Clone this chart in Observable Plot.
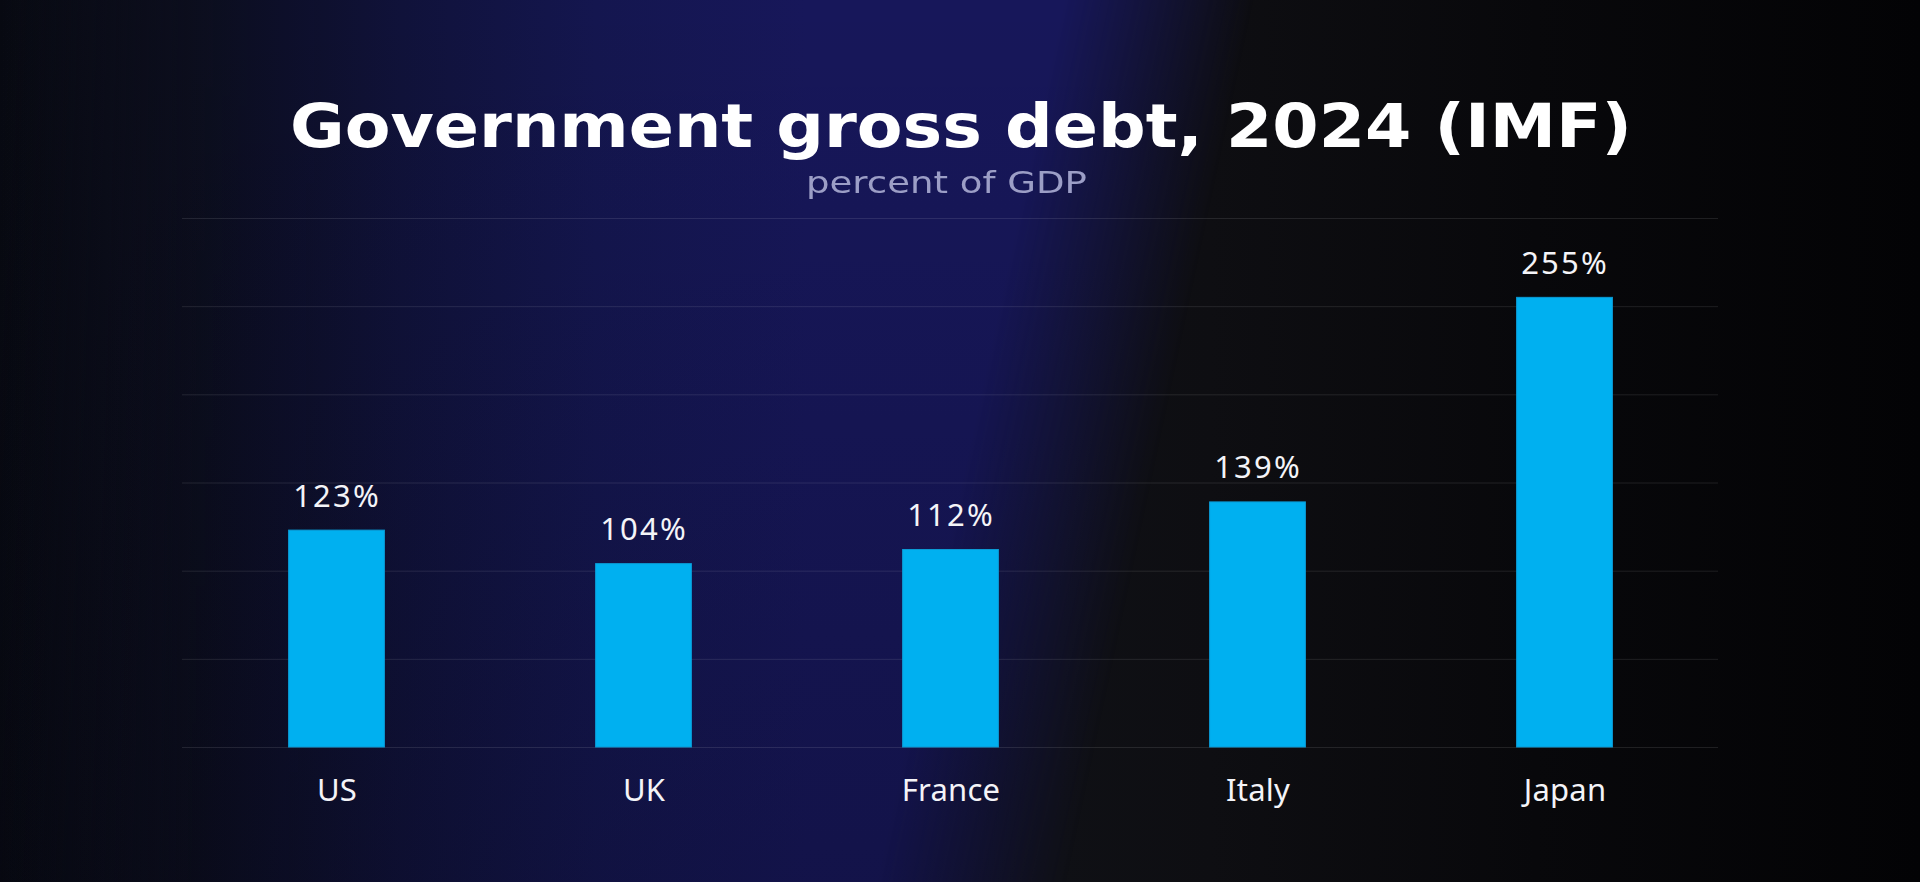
<!DOCTYPE html>
<html>
<head>
<meta charset="utf-8">
<script src="https://cdn.jsdelivr.net/npm/d3@7"></script>
<script src="https://cdn.jsdelivr.net/npm/@observablehq/plot@0.6"></script>
<style>
  html, body { margin: 0; padding: 0; width: 1920px; height: 882px; overflow: hidden; }
  body {
    position: relative;
    background: linear-gradient(90deg, #080a12 0%, #0c0d17 15%, #0f1015 55%, #0e0e12 63%, #08080b 80%, #030305 100%);
  }
  #glow {
    position: absolute; left: 0; top: 0; width: 1920px; height: 882px;
    background:
      linear-gradient(180deg, rgba(4,4,14,0) 0%, rgba(4,4,14,0.22) 100%),
      linear-gradient(90deg, rgba(12,14,28,0) 0%, rgba(12,14,30,0.9) 10%, #10123a 21%, #14164f 31%, #17175a 42%, #17175a 62%);
    -webkit-mask-image: linear-gradient(102deg, #000 50.5%, rgba(0,0,0,0) 59.5%);
    mask-image: linear-gradient(102deg, #000 50.5%, rgba(0,0,0,0) 59.5%);
  }
  #title {
    position: absolute; top: 96px; left: 290px; white-space: nowrap;
    font-family: "DejaVu Sans", sans-serif; font-weight: bold; font-size: 60px; line-height: 60px;
    color: #ffffff; transform-origin: 0 0;
  }
  #subtitle {
    position: absolute; top: 167px; left: 806px; white-space: nowrap;
    font-family: "DejaVu Sans", sans-serif; font-weight: normal; font-size: 31px; line-height: 31px;
    color: #9c9ec6; transform-origin: 0 0;
  }
  #chart { position: absolute; left: 0; top: 200px; }
  #chart g[aria-label="text"] text { letter-spacing: 2.2px; }
  #chart g[aria-label="x-axis tick label"] text { letter-spacing: 0.2px; }
</style>
</head>
<body>
<div id="glow"></div>
<span id="title">Government gross debt, 2024 (IMF)</span>
<span id="subtitle">percent of GDP</span>
<div id="chart"></div>
<script>
const countries = ["US", "UK", "France", "Italy", "Japan"];
const debt = [123, 104, 112, 139, 255];
const yTicks = [0, 50, 100, 150, 200, 250, 300];

const data = countries.map((c, i) => ({country: c, debt: debt[i]}));

function fitWidth(el, target) {
  const w0 = el.getBoundingClientRect().width;
  el.style.transform = "scaleX(" + (target / w0) + ")";
}
fitWidth(document.getElementById("title"), 1342);
fitWidth(document.getElementById("subtitle"), 281);

const chart = Plot.plot({
  width: 1920,
  height: 640,
  marginTop: 18,
  marginBottom: 93,
  marginLeft: 182,
  marginRight: 202,
  style: {background: "transparent", color: "#f4f4f8", fontFamily: "'Noto Sans', 'Open Sans', sans-serif", overflow: "visible"},
  x: {domain: countries, padding: 0, label: null},
  y: {domain: [0, 300], axis: null},
  marks: [
    Plot.ruleY(yTicks, {stroke: "#ffffff", strokeOpacity: 0.1, strokeWidth: 1}),
    Plot.barY(data, {x: "country", y: "debt", fill: "#00b0f0", stroke: "#0a9ad4", strokeWidth: 1, insetLeft: 105.6, insetRight: 105.6}),
    Plot.text(data, {x: "country", y: "debt", text: d => d.debt + "%", dy: -24, lineAnchor: "bottom", fontSize: 31, fill: "#f4f4f8"}),
    Plot.axisX({tickSize: 0, tickPadding: 31, fontSize: 31, color: "#f4f4f8", label: null})
  ]
});
document.getElementById("chart").appendChild(chart);
</script>
</body>
</html>
